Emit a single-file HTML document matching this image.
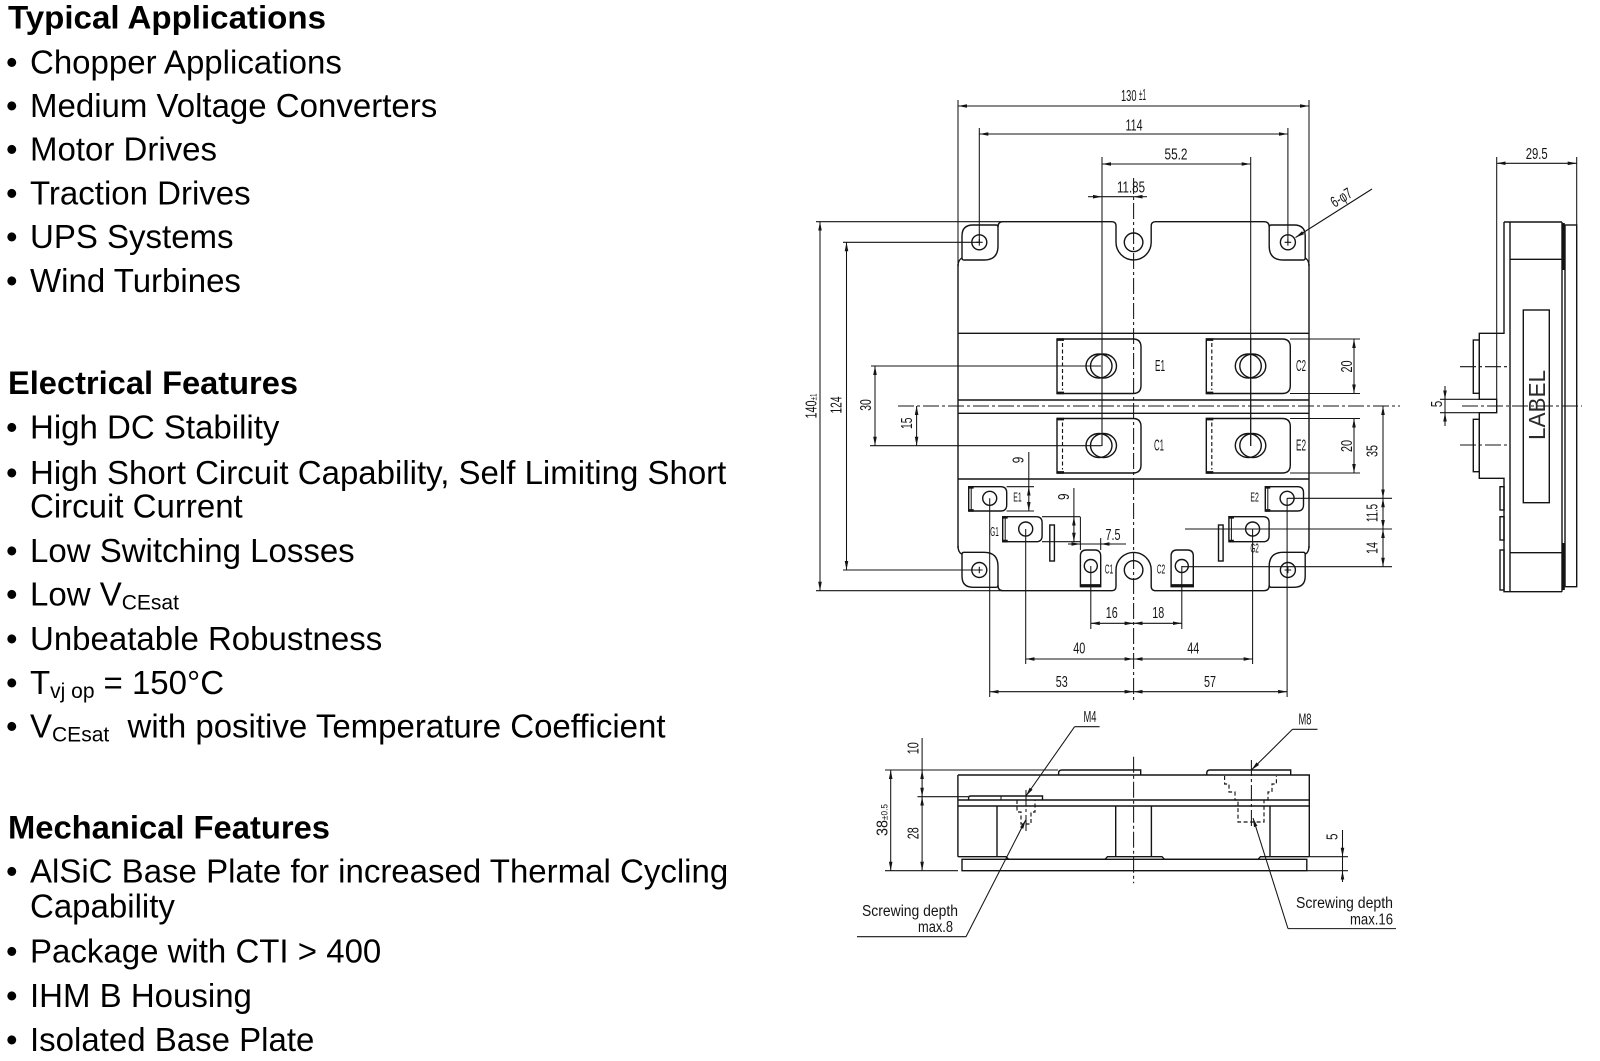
<!DOCTYPE html>
<html><head><meta charset="utf-8"><style>
html,body{margin:0;padding:0;background:#fff;}
svg{display:block;}
.o{fill:none;stroke:#141414;stroke-width:1.4}
.t{fill:none;stroke:#141414;stroke-width:1.05}
.dm{fill:none;stroke:#141414;stroke-width:1.05;marker-start:url(#a);marker-end:url(#a)}
.de{fill:none;stroke:#141414;stroke-width:1.05;marker-end:url(#a)}
.cl{fill:none;stroke:#141414;stroke-width:1.05;stroke-dasharray:16 3 3 3}
.ds{fill:none;stroke:#141414;stroke-width:1.15;stroke-dasharray:4 2.5}
.k{fill:none;stroke:#141414;stroke-width:2.6}
.l{font-family:"Liberation Sans",sans-serif;font-size:15.5px;fill:#141414}
.s{font-family:"Liberation Sans",sans-serif;font-size:12.5px;fill:#141414}
.tx{font-family:"Liberation Sans",Arial,sans-serif;font-size:33px;fill:#000}
.hd{font-family:"Liberation Sans",Arial,sans-serif;font-size:32.7px;font-weight:bold;fill:#000}
</style></head><body>
<svg width="1600" height="1061" viewBox="0 0 1600 1061" xmlns="http://www.w3.org/2000/svg">
<defs>
<marker id="a" viewBox="0 0 10 10" refX="10" refY="5" markerWidth="9" markerHeight="9" markerUnits="userSpaceOnUse" orient="auto-start-reverse"><path d="M0,3 L10,5 L0,7 z" fill="#141414"/></marker>
</defs>

<!-- ============ LEFT TEXT ============ -->
<text class="hd" x="8" y="28.5" textLength="318" lengthAdjust="spacingAndGlyphs">Typical Applications</text>
<text class="tx" x="6" y="73.4">•</text><text class="tx" x="30" y="73.4">Chopper Applications</text>
<text class="tx" x="6" y="117">•</text><text class="tx" x="30" y="117">Medium Voltage Converters</text>
<text class="tx" x="6" y="160.6">•</text><text class="tx" x="30" y="160.6">Motor Drives</text>
<text class="tx" x="6" y="204.5">•</text><text class="tx" x="30" y="204.5">Traction Drives</text>
<text class="tx" x="6" y="248">•</text><text class="tx" x="30" y="248">UPS Systems</text>
<text class="tx" x="6" y="292">•</text><text class="tx" x="30" y="292">Wind Turbines</text>

<text class="hd" x="8" y="394" textLength="290" lengthAdjust="spacingAndGlyphs">Electrical Features</text>
<text class="tx" x="6" y="438.5">•</text><text class="tx" x="30" y="438.5">High DC Stability</text>
<text class="tx" x="6" y="484">•</text><text class="tx" x="30" y="484">High Short Circuit Capability, Self Limiting Short</text>
<text class="tx" x="30" y="517.5">Circuit Current</text>
<text class="tx" x="6" y="562">•</text><text class="tx" x="30" y="562">Low Switching Losses</text>
<text class="tx" x="6" y="605.5">•</text><text class="tx" x="30" y="605.5">Low V<tspan font-size="21" dy="4">CEsat</tspan></text>
<text class="tx" x="6" y="650">•</text><text class="tx" x="30" y="650">Unbeatable Robustness</text>
<text class="tx" x="6" y="694">•</text><text class="tx" x="30" y="694">T<tspan font-size="21" dy="4">vj op</tspan></text><text class="tx" x="103.5" y="694">= 150°C</text>
<text class="tx" x="6" y="737.5">•</text><text class="tx" x="30" y="737.5">V<tspan font-size="21" dy="4">CEsat</tspan></text><text class="tx" x="127.5" y="737.5">with positive Temperature Coefficient</text>

<text class="hd" x="8" y="838.5" textLength="322" lengthAdjust="spacingAndGlyphs">Mechanical Features</text>
<text class="tx" x="6" y="882.7">•</text><text class="tx" x="30" y="882.7">AlSiC Base Plate for increased Thermal Cycling</text>
<text class="tx" x="30" y="917.5">Capability</text>
<text class="tx" x="6" y="962.5">•</text><text class="tx" x="30" y="962.5">Package with CTI &gt; 400</text>
<text class="tx" x="6" y="1007">•</text><text class="tx" x="30" y="1007">IHM B Housing</text>
<text class="tx" x="6" y="1051">•</text><text class="tx" x="30" y="1051">Isolated Base Plate</text>

<!-- ============ TOP VIEW ============ -->
<line class="t" x1="958" y1="100" x2="958" y2="264"/>
<line class="t" x1="1309" y1="100" x2="1309" y2="264"/>
<line class="dm" x1="958" y1="106" x2="1309" y2="106"/>
<text class="l" x="1121" y="101" textLength="15.5" lengthAdjust="spacingAndGlyphs">130</text>
<text class="l" x="1139" y="100" font-size="9" textLength="7" lengthAdjust="spacingAndGlyphs">±1</text>

<line class="t" x1="979.3" y1="128" x2="979.3" y2="242"/>
<line class="t" x1="1287.9" y1="128" x2="1287.9" y2="242"/>
<line class="dm" x1="979.3" y1="134" x2="1287.9" y2="134"/>
<text class="l" x="1134" y="130.5" text-anchor="middle" textLength="17" lengthAdjust="spacingAndGlyphs">114</text>

<line class="t" x1="1102" y1="157" x2="1102" y2="446"/>
<line class="t" x1="1250.7" y1="157" x2="1250.7" y2="446"/>
<line class="dm" x1="1102" y1="164" x2="1250.7" y2="164"/>
<text class="l" x="1176" y="159.5" text-anchor="middle" textLength="23" lengthAdjust="spacingAndGlyphs">55.2</text>

<line class="t" x1="1102" y1="196.7" x2="1133.6" y2="196.7"/>
<line class="de" x1="1088" y1="196.7" x2="1102" y2="196.7"/>
<line class="de" x1="1147" y1="196.7" x2="1133.6" y2="196.7"/>
<text class="l" x="1131" y="192.5" text-anchor="middle" textLength="28" lengthAdjust="spacingAndGlyphs">11.85</text>

<line class="cl" x1="1133.6" y1="178" x2="1133.6" y2="700"/>

<!-- body outline -->
<path class="o" d="M1003 221.7 L1112 221.7 Q1116 221.7 1116 226 L1116 242.3 A17.6 17.6 0 0 0 1151.2 242.3 L1151.2 226 Q1151.2 221.7 1155.5 221.7 L1264 221.7"/>
<path class="o" d="M1003 590.7 L1112 590.7 Q1116 590.7 1116 586 L1116 570 A17.6 17.6 0 0 1 1151.2 570 L1151.2 586 Q1151.2 590.7 1155.5 590.7 L1264 590.7"/>
<line class="o" x1="958" y1="264" x2="958" y2="548"/>
<line class="o" x1="1309" y1="264" x2="1309" y2="548"/>
<path class="o" d="M962 258 L962 236 Q962 225 973 225 L996 225 Q998 225 998 227 L998 246 Q998 260 984 260 L964 260 Q962 260 962 258 Z"/>
<path class="o" d="M998 227 Q998 221.7 1003 221.7 M958 266 Q958 260 962 258"/>
<path class="o" d="M1305.2 258 L1305.2 236 Q1305.2 225 1294.2 225 L1271.2 225 Q1269.2 225 1269.2 227 L1269.2 246 Q1269.2 260 1283.2 260 L1303.2 260 Q1305.2 260 1305.2 258 Z"/>
<path class="o" d="M1269.2 227 Q1269.2 221.7 1264 221.7 M1309 266 Q1309 260 1305.2 258"/>
<path class="o" d="M962 554.3 L962 576.3 Q962 587.3 973 587.3 L996 587.3 Q998 587.3 998 585.3 L998 566.3 Q998 552.3 984 552.3 L964 552.3 Q962 552.3 962 554.3 Z"/>
<path class="o" d="M998 585.3 Q998 590.7 1003 590.7 M958 546 Q958 552.3 962 554.3"/>
<path class="o" d="M1305.2 554.3 L1305.2 576.3 Q1305.2 587.3 1294.2 587.3 L1271.2 587.3 Q1269.2 587.3 1269.2 585.3 L1269.2 566.3 Q1269.2 552.3 1283.2 552.3 L1303.2 552.3 Q1305.2 552.3 1305.2 554.3 Z"/>
<path class="o" d="M1269.2 585.3 Q1269.2 590.7 1264 590.7 M1309 546 Q1309 552.3 1305.2 554.3"/>
<circle class="o" cx="979.3" cy="242.3" r="7.5"/><path class="t" d="M976 242.3h6.6M979.3 239v6.6"/>
<circle class="o" cx="1287.9" cy="242.3" r="7.5"/><path class="t" d="M1284.6 242.3h6.6M1287.9 239v6.6"/>
<circle class="o" cx="1133.6" cy="242.3" r="9.3"/>
<circle class="o" cx="979.3" cy="570" r="7.5"/><path class="t" d="M976 570h6.6M979.3 566.7v6.6"/>
<circle class="o" cx="1287.9" cy="570" r="7.5"/><path class="t" d="M1284.6 570h6.6M1287.9 566.7v6.6"/>
<circle class="o" cx="1133.6" cy="570" r="9.3"/>

<line class="o" x1="958" y1="333.3" x2="1309" y2="333.3"/>
<line class="o" x1="958" y1="400" x2="1309" y2="400"/>
<line class="o" x1="958" y1="413.3" x2="1309" y2="413.3"/>
<line class="o" x1="958" y1="479" x2="1309" y2="479"/>

<!-- main terminals -->
<g transform="translate(1057,339)">
 <path class="o" d="M0 0H76Q84 0 84 8V46.5Q84 54.5 76 54.5H0Z" fill="#fff"/>
 <path class="k" d="M0 0.6H7M0 53.9H7"/>
 <line class="ds" x1="5.5" y1="4" x2="5.5" y2="51"/>
 <ellipse class="o" cx="42" cy="27" rx="13" ry="12"/>
 <ellipse class="o" cx="46.5" cy="27" rx="13" ry="12"/>
</g>
<g transform="translate(1206.3,339)">
 <path class="o" d="M0 0H76Q84 0 84 8V46.5Q84 54.5 76 54.5H0Z" fill="#fff"/>
 <path class="k" d="M0 0.6H7M0 53.9H7"/>
 <line class="ds" x1="5.5" y1="4" x2="5.5" y2="51"/>
 <ellipse class="o" cx="42" cy="27" rx="13" ry="12"/>
 <ellipse class="o" cx="46.5" cy="27" rx="13" ry="12"/>
</g>
<g transform="translate(1057,418.5)">
 <path class="o" d="M0 0H76Q84 0 84 8V46.5Q84 54.5 76 54.5H0Z" fill="#fff"/>
 <path class="k" d="M0 0.6H7M0 53.9H7"/>
 <line class="ds" x1="5.5" y1="4" x2="5.5" y2="51"/>
 <ellipse class="o" cx="42" cy="27" rx="13" ry="12"/>
 <ellipse class="o" cx="46.5" cy="27" rx="13" ry="12"/>
</g>
<g transform="translate(1206.3,418.5)">
 <path class="o" d="M0 0H76Q84 0 84 8V46.5Q84 54.5 76 54.5H0Z" fill="#fff"/>
 <path class="k" d="M0 0.6H7M0 53.9H7"/>
 <line class="ds" x1="5.5" y1="4" x2="5.5" y2="51"/>
 <ellipse class="o" cx="42" cy="27" rx="13" ry="12"/>
 <ellipse class="o" cx="46.5" cy="27" rx="13" ry="12"/>
</g>
<line class="t" x1="1102" y1="339" x2="1102" y2="446"/>
<line class="t" x1="1250.7" y1="339" x2="1250.7" y2="446"/>
<line class="t" x1="871" y1="366" x2="1101" y2="366"/>
<line class="t" x1="870" y1="445.7" x2="1101.5" y2="445.7"/>

<text class="l" x="1160" y="371" text-anchor="middle" font-size="13.5" textLength="10" lengthAdjust="spacingAndGlyphs">E1</text>
<text class="l" x="1301" y="371" text-anchor="middle" font-size="13.5" textLength="10" lengthAdjust="spacingAndGlyphs">C2</text>
<text class="l" x="1159" y="450.7" text-anchor="middle" font-size="13.5" textLength="10" lengthAdjust="spacingAndGlyphs">C1</text>
<text class="l" x="1301" y="450.7" text-anchor="middle" font-size="13.5" textLength="10" lengthAdjust="spacingAndGlyphs">E2</text>

<!-- aux terminals -->
<g transform="translate(989.7,498.3)">
 <path class="o" d="M-21 -11.6H11Q17 -11.6 17 -5.6V6.7Q17 12.7 11 12.7H-21Z"/>
 <path class="k" d="M-21 -11H-16M-21 12.1H-16"/>
 <line class="t" x1="-18.5" y1="-10" x2="-18.5" y2="11"/>
 <circle class="o" r="7"/>
</g>
<g transform="translate(1025.7,529)">
 <path class="o" d="M-23 -12.3H10.4Q16.4 -12.3 16.4 -6.3V6.7Q16.4 12.7 10.4 12.7H-23Z"/>
 <path class="k" d="M-23 -11.7H-18M-23 12.1H-18"/>
 <line class="t" x1="-20.5" y1="-10.5" x2="-20.5" y2="11"/>
 <circle class="o" r="7"/>
</g>
<g transform="translate(1287.1,498.3)">
 <path class="o" d="M-21.8 -11.6H10.4Q16.4 -11.6 16.4 -5.6V6.7Q16.4 12.7 10.4 12.7H-21.8Z"/>
 <path class="k" d="M-21.8 -11H-16.8M-21.8 12.1H-16.8"/>
 <line class="t" x1="-19.3" y1="-10" x2="-19.3" y2="11"/>
 <circle class="o" r="7"/>
</g>
<g transform="translate(1252.6,529)">
 <path class="o" d="M-23.7 -12.3H10.5Q16.5 -12.3 16.5 -6.3V6.7Q16.5 12.7 10.5 12.7H-23.7Z"/>
 <path class="k" d="M-23.7 -11.7H-18.7M-23.7 12.1H-18.7"/>
 <line class="t" x1="-21.2" y1="-10.5" x2="-21.2" y2="11"/>
 <circle class="o" r="7"/>
</g>
<g transform="translate(1090.8,566)">
 <path class="o" d="M-10.4 20.7V-10Q-10.4 -16 -4.4 -16H3.9Q9.9 -16 9.9 -10V20.7Z"/>
 <path class="k" d="M-10.4 19.4H9.9"/>
 <circle class="o" r="6.5"/>
</g>
<g transform="translate(1181.8,566)">
 <path class="o" d="M-10.7 20.7V-10Q-10.7 -16 -4.7 -16H5.5Q11.5 -16 11.5 -10V20.7Z"/>
 <path class="k" d="M-10.7 19.4H11.5"/>
 <circle class="o" r="6.5"/>
</g>
<rect class="o" x="1049.8" y="525" width="4.6" height="36"/>
<rect class="o" x="1218.5" y="525" width="4.6" height="36"/>

<text class="s" x="1017.5" y="501.5" text-anchor="middle" textLength="8.5" lengthAdjust="spacingAndGlyphs">E1</text>
<text class="s" x="994.5" y="536" text-anchor="middle" textLength="8.5" lengthAdjust="spacingAndGlyphs">G1</text>
<text class="s" x="1109" y="573.5" text-anchor="middle" textLength="8.5" lengthAdjust="spacingAndGlyphs">C1</text>
<text class="s" x="1161" y="573.5" text-anchor="middle" textLength="8.5" lengthAdjust="spacingAndGlyphs">C2</text>
<text class="s" x="1254.6" y="552.5" text-anchor="middle" textLength="8.5" lengthAdjust="spacingAndGlyphs">G2</text>
<text class="s" x="1254.6" y="501.5" text-anchor="middle" textLength="8.5" lengthAdjust="spacingAndGlyphs">E2</text>

<line class="t" x1="989.7" y1="498.3" x2="989.7" y2="697"/>
<line class="t" x1="1025.7" y1="529" x2="1025.7" y2="664"/>
<line class="t" x1="1090.8" y1="566" x2="1090.8" y2="629"/>
<line class="t" x1="1181.8" y1="566" x2="1181.8" y2="629"/>
<line class="t" x1="1252.6" y1="529" x2="1252.6" y2="664"/>
<line class="t" x1="1287.1" y1="498.3" x2="1287.1" y2="697"/>
<line class="t" x1="1287.1" y1="498.3" x2="1392" y2="498.3"/>
<line class="t" x1="1185" y1="529" x2="1392" y2="529"/>
<line class="t" x1="1182" y1="566.7" x2="1392" y2="566.7"/>

<!-- 9 dims & 7.5 -->
<line class="t" x1="1006.6" y1="486.7" x2="1034" y2="486.7"/>
<line class="t" x1="1006.6" y1="511" x2="1034" y2="511"/>
<line class="t" x1="1028.8" y1="452" x2="1028.8" y2="486.7"/>
<line class="dm" x1="1028.8" y1="486.7" x2="1028.8" y2="511"/>
<text class="l" transform="translate(1023.5,460) rotate(-90)" text-anchor="middle" textLength="6.5" lengthAdjust="spacingAndGlyphs">9</text>
<line class="t" x1="1042" y1="516.7" x2="1080" y2="516.7"/>
<line class="t" x1="1042" y1="541.7" x2="1080" y2="541.7"/>
<line class="t" x1="1073.9" y1="488" x2="1073.9" y2="516.7"/>
<line class="dm" x1="1073.9" y1="516.7" x2="1073.9" y2="541.7"/>
<text class="l" transform="translate(1069,496.7) rotate(-90)" text-anchor="middle" textLength="6.5" lengthAdjust="spacingAndGlyphs">9</text>
<line class="t" x1="1080.4" y1="516.7" x2="1080.4" y2="550"/>
<line class="t" x1="1100.7" y1="538" x2="1100.7" y2="550"/>
<line class="t" x1="1080.4" y1="544" x2="1126" y2="544"/>
<line class="de" x1="1068" y1="544" x2="1080.4" y2="544"/>
<line class="de" x1="1113" y1="544" x2="1100.7" y2="544"/>
<text class="l" x="1113" y="540" text-anchor="middle" textLength="15" lengthAdjust="spacingAndGlyphs">7.5</text>

<!-- left dims -->
<line class="t" x1="816" y1="221.7" x2="1003" y2="221.7"/>
<line class="t" x1="816" y1="590.7" x2="1003" y2="590.7"/>
<line class="dm" x1="820" y1="221.7" x2="820" y2="590.7"/>
<text class="l" transform="translate(816.5,406) rotate(-90)" text-anchor="middle" textLength="25" lengthAdjust="spacingAndGlyphs">140<tspan font-size="9">±1</tspan></text>
<line class="t" x1="843" y1="242.3" x2="979" y2="242.3"/>
<line class="t" x1="843" y1="570" x2="979" y2="570"/>
<line class="dm" x1="846.5" y1="242.3" x2="846.5" y2="570"/>
<text class="l" transform="translate(841.5,405) rotate(-90)" text-anchor="middle" textLength="17" lengthAdjust="spacingAndGlyphs">124</text>
<line class="dm" x1="875" y1="366" x2="875" y2="445.7"/>
<text class="l" transform="translate(871,405) rotate(-90)" text-anchor="middle" textLength="11.5" lengthAdjust="spacingAndGlyphs">30</text>
<line class="dm" x1="916.6" y1="406" x2="916.6" y2="445.7"/>
<text class="l" transform="translate(911.8,423.3) rotate(-90)" text-anchor="middle" textLength="11.5" lengthAdjust="spacingAndGlyphs">15</text>
<line class="cl" x1="898" y1="406" x2="1400" y2="406"/>

<!-- right dims -->
<line class="t" x1="1290" y1="339" x2="1360" y2="339"/>
<line class="t" x1="1290" y1="393.5" x2="1360" y2="393.5"/>
<line class="t" x1="1290" y1="418.5" x2="1360" y2="418.5"/>
<line class="t" x1="1290" y1="473" x2="1360" y2="473"/>
<line class="dm" x1="1354" y1="339" x2="1354" y2="393.5"/>
<line class="dm" x1="1354" y1="418.5" x2="1354" y2="473"/>
<text class="l" transform="translate(1352,366.5) rotate(-90)" text-anchor="middle" textLength="12" lengthAdjust="spacingAndGlyphs">20</text>
<text class="l" transform="translate(1352,446) rotate(-90)" text-anchor="middle" textLength="12" lengthAdjust="spacingAndGlyphs">20</text>
<line class="dm" x1="1383" y1="406" x2="1383" y2="498.3"/>
<line class="dm" x1="1383" y1="498.3" x2="1383" y2="529"/>
<line class="dm" x1="1383" y1="529" x2="1383" y2="566.7"/>
<text class="l" transform="translate(1377.5,451) rotate(-90)" text-anchor="middle" textLength="12" lengthAdjust="spacingAndGlyphs">35</text>
<text class="l" transform="translate(1377.5,513) rotate(-90)" text-anchor="middle" textLength="18" lengthAdjust="spacingAndGlyphs">11.5</text>
<text class="l" transform="translate(1377.5,548) rotate(-90)" text-anchor="middle" textLength="12" lengthAdjust="spacingAndGlyphs">14</text>

<!-- bottom dims -->
<line class="dm" x1="1090.8" y1="623.3" x2="1133.6" y2="623.3"/>
<line class="dm" x1="1133.6" y1="623.3" x2="1181.8" y2="623.3"/>
<text class="l" x="1111.7" y="618" text-anchor="middle" textLength="12" lengthAdjust="spacingAndGlyphs">16</text>
<text class="l" x="1158.3" y="618" text-anchor="middle" textLength="12" lengthAdjust="spacingAndGlyphs">18</text>
<line class="dm" x1="1025.7" y1="659" x2="1133.6" y2="659"/>
<line class="dm" x1="1133.6" y1="659" x2="1252.6" y2="659"/>
<text class="l" x="1079.3" y="653.7" text-anchor="middle" textLength="12" lengthAdjust="spacingAndGlyphs">40</text>
<text class="l" x="1193.3" y="653.7" text-anchor="middle" textLength="12" lengthAdjust="spacingAndGlyphs">44</text>
<line class="dm" x1="989.7" y1="691.7" x2="1133.6" y2="691.7"/>
<line class="dm" x1="1133.6" y1="691.7" x2="1287.1" y2="691.7"/>
<text class="l" x="1061.7" y="687" text-anchor="middle" textLength="12" lengthAdjust="spacingAndGlyphs">53</text>
<text class="l" x="1210" y="687" text-anchor="middle" textLength="12" lengthAdjust="spacingAndGlyphs">57</text>

<!-- 6-phi7 -->
<line class="de" x1="1372" y1="189" x2="1295.5" y2="237.5"/>
<text class="l" transform="translate(1344,202) rotate(-32)" text-anchor="middle" font-size="13.5" textLength="22" lengthAdjust="spacingAndGlyphs">6-φ7</text>

<!-- ============ SIDE VIEW ============ -->
<line class="t" x1="1496.7" y1="157" x2="1496.7" y2="399.3"/>
<line class="t" x1="1576.7" y1="157" x2="1576.7" y2="225"/>
<line class="dm" x1="1496.7" y1="163.3" x2="1576.7" y2="163.3"/>
<text class="l" x="1536.7" y="159" text-anchor="middle" textLength="22" lengthAdjust="spacingAndGlyphs">29.5</text>
<path class="o" d="M1504 222H1562 M1504 222V333.3H1479.3V399.3H1496.7V412.7H1479.3V478.3H1504V591.7H1562"/>
<line class="o" x1="1510" y1="222" x2="1510" y2="591.7"/>
<line class="o" x1="1562" y1="222" x2="1562" y2="591.7"/>
<rect class="o" x="1565" y="225" width="11.7" height="361.7"/>
<line class="k" x1="1563.5" y1="223" x2="1563.5" y2="270"/>
<line class="k" x1="1563.5" y1="543" x2="1563.5" y2="590"/>
<line class="o" x1="1510" y1="259.3" x2="1562" y2="259.3"/>
<line class="o" x1="1510" y1="552.7" x2="1562" y2="552.7"/>
<rect class="o" x="1523.3" y="310" width="26" height="192.7"/>
<text transform="translate(1545,405) rotate(-90)" text-anchor="middle" font-family="Liberation Sans, sans-serif" font-size="23" fill="#2a2a2a" textLength="70" lengthAdjust="spacingAndGlyphs">LABEL</text>
<rect class="o" x="1473.3" y="340" width="6" height="53.3" stroke-width="1.6"/>
<rect class="o" x="1473.3" y="419.3" width="6" height="52.4" stroke-width="1.6"/>
<rect class="o" x="1500" y="486.7" width="4" height="23.3"/>
<rect class="o" x="1500" y="516.7" width="4" height="23.3"/>
<rect class="o" x="1500" y="550" width="4" height="40"/>
<line class="cl" x1="1460" y1="366.7" x2="1510" y2="366.7"/>
<line class="cl" x1="1460" y1="445" x2="1510" y2="445"/>
<line class="cl" x1="1462" y1="406" x2="1582" y2="406"/>
<line class="t" x1="1440" y1="399.3" x2="1479" y2="399.3"/>
<line class="t" x1="1440" y1="412.7" x2="1479" y2="412.7"/>
<line class="t" x1="1445" y1="399.3" x2="1445" y2="412.7"/>
<line class="de" x1="1445" y1="386" x2="1445" y2="399.3"/>
<line class="de" x1="1445" y1="426" x2="1445" y2="412.7"/>
<text class="l" transform="translate(1442,404) rotate(-90)" text-anchor="middle" textLength="6.5" lengthAdjust="spacingAndGlyphs">5</text>

<!-- ============ BOTTOM (FRONT) VIEW ============ -->
<path class="o" d="M957.9 775H1309.3V856.7M957.9 775V856.7"/>
<line class="o" x1="957.9" y1="800" x2="1309.3" y2="800"/>
<line class="o" x1="957.9" y1="806" x2="1309.3" y2="806"/>
<line class="o" x1="997" y1="806" x2="997" y2="856.7"/>
<line class="o" x1="1115.7" y1="806" x2="1115.7" y2="856.7"/>
<line class="o" x1="1151.4" y1="806" x2="1151.4" y2="856.7"/>
<line class="o" x1="1270" y1="806" x2="1270" y2="856.7"/>
<path class="o" d="M957.9 856.7H1006L1008.6 859.3H1105L1107.5 856.7H1162L1164.5 859.3H1258L1260.5 856.7H1309.3"/>
<rect class="o" x="962" y="859.3" width="344.8" height="11.4"/>
<path class="o" d="M1140.7 775V770H1062Q1058.6 770 1058.6 773V775" stroke-width="1.6"/>
<path class="o" d="M1290.7 775V770H1210Q1206.8 770 1206.8 773V775" stroke-width="1.6"/>
<path class="o" d="M968.6 800V797.5Q968.6 796 971 796H1042.5V800" stroke-width="1.5"/>
<line class="t" x1="1001" y1="796" x2="1001" y2="800"/>
<path class="ds" d="M1017 800V812H1021V824H1031V812H1035V800"/>
<line class="cl" x1="1026" y1="790" x2="1026" y2="832"/>
<path class="ds" d="M1224.6 776V784H1229V792H1235V800H1238V822H1264V800H1268V792H1272V784H1276.4V776"/>
<line class="cl" x1="1251.4" y1="760" x2="1251.4" y2="826"/>
<line class="cl" x1="1133.6" y1="756.7" x2="1133.6" y2="883.3"/>

<line class="t" x1="885" y1="770" x2="1058" y2="770"/>
<line class="t" x1="917.5" y1="796.7" x2="968" y2="796.7"/>
<line class="t" x1="885" y1="870.7" x2="958" y2="870.7"/>
<line class="dm" x1="890.7" y1="770" x2="890.7" y2="870.7"/>
<text class="l" transform="translate(887.5,820) rotate(-90)" text-anchor="middle" textLength="32" lengthAdjust="spacingAndGlyphs">38<tspan font-size="9">±0.5</tspan></text>
<line class="t" x1="922.1" y1="738" x2="922.1" y2="770"/>
<line class="dm" x1="922.1" y1="770" x2="922.1" y2="796.7"/>
<line class="dm" x1="922.1" y1="796.7" x2="922.1" y2="870.7"/>
<text class="l" transform="translate(918.5,748.3) rotate(-90)" text-anchor="middle" textLength="12" lengthAdjust="spacingAndGlyphs">10</text>
<text class="l" transform="translate(918.5,833.3) rotate(-90)" text-anchor="middle" textLength="12" lengthAdjust="spacingAndGlyphs">28</text>

<line class="t" x1="1309.3" y1="856.7" x2="1348" y2="856.7"/>
<line class="t" x1="1307" y1="870.7" x2="1348" y2="870.7"/>
<line class="t" x1="1342.5" y1="856.7" x2="1342.5" y2="870.7"/>
<line class="de" x1="1342.5" y1="830" x2="1342.5" y2="856.7"/>
<line class="de" x1="1342.5" y1="882" x2="1342.5" y2="870.7"/>
<text class="l" transform="translate(1337.5,836.7) rotate(-90)" text-anchor="middle" textLength="6.5" lengthAdjust="spacingAndGlyphs">5</text>

<text class="l" x="1090" y="722" text-anchor="middle" textLength="13" lengthAdjust="spacingAndGlyphs">M4</text>
<line class="t" x1="1074.6" y1="726.7" x2="1099.6" y2="726.7"/>
<line class="de" x1="1074.6" y1="726.7" x2="1026" y2="796"/>
<text class="l" x="1305" y="724.5" text-anchor="middle" textLength="13" lengthAdjust="spacingAndGlyphs">M8</text>
<line class="t" x1="1292.5" y1="729.3" x2="1317.5" y2="729.3"/>
<line class="de" x1="1292.5" y1="729.3" x2="1251.4" y2="770"/>

<text class="l" x="862" y="916" textLength="96" lengthAdjust="spacingAndGlyphs">Screwing depth</text>
<text class="l" x="953" y="932" text-anchor="end" textLength="35" lengthAdjust="spacingAndGlyphs">max.8</text>
<line class="t" x1="857" y1="936.7" x2="966" y2="936.7"/>
<line class="de" x1="966" y1="936.7" x2="1025.7" y2="820"/>
<text class="l" x="1296" y="908" textLength="97" lengthAdjust="spacingAndGlyphs">Screwing depth</text>
<text class="l" x="1393" y="924.5" text-anchor="end" textLength="43" lengthAdjust="spacingAndGlyphs">max.16</text>
<line class="t" x1="1288" y1="928.6" x2="1396" y2="928.6"/>
<line class="de" x1="1288" y1="928.6" x2="1253" y2="818"/>
</svg>
</body></html>
